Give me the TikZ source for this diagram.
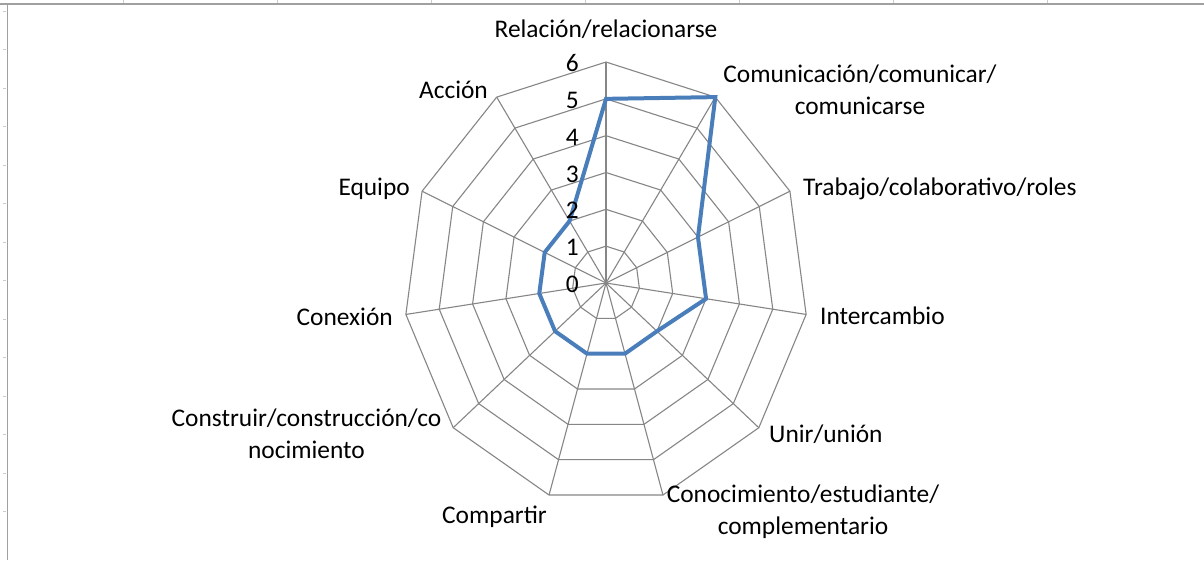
\documentclass[tikz,border=0pt]{standalone}
\usepackage{fontspec}
\setmainfont{Carlito}
\usetikzlibrary{positioning}

\definecolor{gridgray}{HTML}{868686}
\definecolor{seriesblue}{HTML}{4A7EBB}
\definecolor{framegray}{HTML}{A0A0A0}

\tikzset{
  web/.style={gridgray, line width=1.1pt},
  series/.style={seriesblue, line width=4pt, line join=miter},
  axislabel/.style={font=\fontsize{25.4}{32}\selectfont, inner sep=0pt},
  ticklabel/.style={font=\fontsize{25.4}{32}\selectfont, inner sep=0pt, anchor=base east}
}

\begin{document}
\begin{tikzpicture}[x=1pt,y=-1pt]
  \useasboundingbox (0,0) rectangle (1204,560);
  \fill[white] (0,0) rectangle (1204,560);
  % sheet frame
  \draw[framegray, line width=1.5pt] (0,4) -- (1204,4);
  \draw[framegray, line width=1.5pt] (7.5,4) -- (7.5,560);
  \foreach \y in {11,49.5,...,520} \draw[gray!40] (3,\y) -- (6,\y);
  \foreach \x in {123,277,...,1200} \draw[gray!40] (\x,0) -- (\x,3);

  \coordinate (ctr) at (606,283);
  \begin{scope}[shift={(ctr)}, xscale=0.915, yscale=-1]
    % spokes and rings
    \foreach \i in {0,...,10}
      \draw[web] (0,0) -- ({90-\i*360/11}:221);
    \foreach \k in {1,...,6}
      \draw[web] (90:{\k*36.83}) \foreach \i in {1,...,10} { -- ({90-\i*360/11}:{\k*36.83}) } -- cycle;
    % series
    \draw[series] (90:{5*36.83})
      \foreach \v [count=\i] in {6,3,3,2,2,2,2,2,2,2} { -- ({90-\i*360/11}:{\v*36.83}) } -- cycle;
  \end{scope}

  % scale
  \foreach \k in {0,...,6}
    \node[ticklabel] (tick\k) at (579,{292.6-\k*36.83}) {\k};

  % categories (base of a two-line label = its last line)
  \node[axislabel, anchor=base] (rel) at (606,37) {Relación/relacionarse};
  \node[axislabel, anchor=base, align=center] (com) at (860,114) {Comunicación/comunicar/\\comunicarse};
  \node[axislabel, anchor=base west] (trab) at (803,195) {Trabajo/colaborativo/roles};
  \node[axislabel, anchor=base west] (inter) at (820,324) {Intercambio};
  \node[axislabel, anchor=base west] (unir) at (769,442) {Unir/unión};
  \node[axislabel, anchor=base, align=center] (cono) at (803,534) {Conocimiento/estudiante/\\complementario};
  \node[axislabel, anchor=base east] (comp) at (547,523) {Compartir};
  \node[axislabel, anchor=base, align=center] (cons) at (306.5,458) {Construir/construcción/co\\nocimiento};
  \node[axislabel, anchor=base east] (conex) at (393,325) {Conexión};
  \node[axislabel, anchor=base east] (equi) at (410,195) {Equipo};
  \node[axislabel, anchor=base east] (acc) at (488,98) {Acción};
\end{tikzpicture}
\end{document}
